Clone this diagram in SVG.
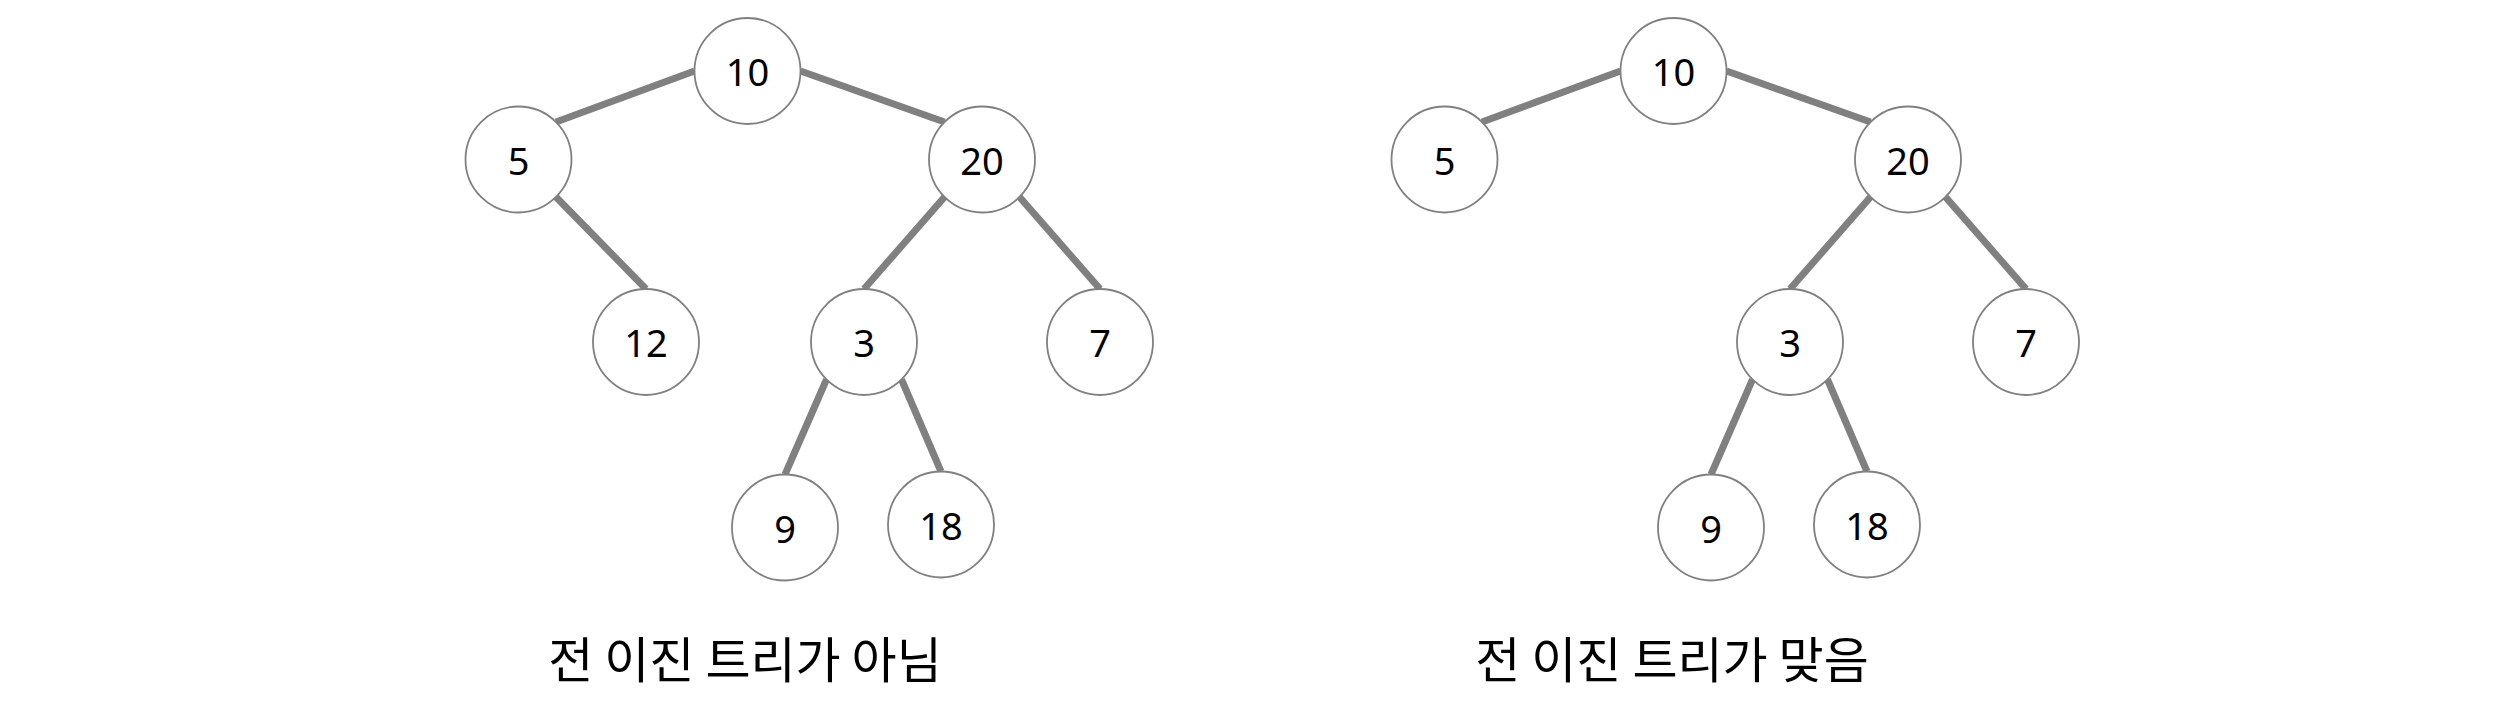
<svg xmlns="http://www.w3.org/2000/svg" width="2515" height="721" viewBox="0 0 2515 721">
<style>
.n circle{fill:#fff;stroke:#808080;stroke-width:1.8}
.n text{font-family:"Noto Sans","Noto Sans CJK KR",sans-serif;font-size:38px;fill:#000;text-anchor:middle}
#edges line{stroke:#808080;stroke-width:7}
.cap{font-family:"Noto Sans CJK KR","Noto Sans",sans-serif;font-size:49px;fill:#000;text-anchor:middle}
</style>
<rect width="2515" height="721" fill="#fff"/>
<g id="edges">
<line x1="694.5" y1="71" x2="556" y2="122"/>
<line x1="800.5" y1="71" x2="944.5" y2="122"/>
<line x1="556" y1="197" x2="646" y2="289"/>
<line x1="944.5" y1="197" x2="864" y2="289"/>
<line x1="1019.5" y1="197" x2="1100" y2="289"/>
<line x1="826.5" y1="379.5" x2="785" y2="474.5"/>
<line x1="901.5" y1="379.5" x2="941" y2="471.5"/>
<line x1="1620.5" y1="71" x2="1482" y2="122"/>
<line x1="1726.5" y1="71" x2="1870.5" y2="122"/>
<line x1="1870.5" y1="197" x2="1790" y2="289"/>
<line x1="1945.5" y1="197" x2="2026" y2="289"/>
<line x1="1752.5" y1="379.5" x2="1711" y2="474.5"/>
<line x1="1827.5" y1="379.5" x2="1867" y2="471.5"/>
</g>
<g id="L10" class="n"><circle cx="747.5" cy="71" r="53"/><text x="747.5" y="86">10</text></g>
<g id="L5" class="n"><circle cx="518.5" cy="159.5" r="53"/><text x="518.5" y="174.5">5</text></g>
<g id="L20" class="n"><circle cx="982" cy="159.5" r="53"/><text x="982" y="174.5">20</text></g>
<g id="L12" class="n"><circle cx="646" cy="342" r="53"/><text x="646" y="357">12</text></g>
<g id="L3" class="n"><circle cx="864" cy="342" r="53"/><text x="864" y="357">3</text></g>
<g id="L7" class="n"><circle cx="1100" cy="342" r="53"/><text x="1100" y="357">7</text></g>
<g id="L9" class="n"><circle cx="785" cy="527.5" r="53"/><text x="785" y="542.5">9</text></g>
<g id="L18" class="n"><circle cx="941" cy="524.5" r="53"/><text x="941" y="539.5">18</text></g>
<g id="R10" class="n"><circle cx="1673.5" cy="71" r="53"/><text x="1673.5" y="86">10</text></g>
<g id="R5" class="n"><circle cx="1444.5" cy="159.5" r="53"/><text x="1444.5" y="174.5">5</text></g>
<g id="R20" class="n"><circle cx="1908" cy="159.5" r="53"/><text x="1908" y="174.5">20</text></g>
<g id="R3" class="n"><circle cx="1790" cy="342" r="53"/><text x="1790" y="357">3</text></g>
<g id="R7" class="n"><circle cx="2026" cy="342" r="53"/><text x="2026" y="357">7</text></g>
<g id="R9" class="n"><circle cx="1711" cy="527.5" r="53"/><text x="1711" y="542.5">9</text></g>
<g id="R18" class="n"><circle cx="1867" cy="524.5" r="53"/><text x="1867" y="539.5">18</text></g>
<g id="captions">
<text class="cap" x="745" y="678">전 이진 트리가 아님</text>
<text class="cap" x="1672" y="678">전 이진 트리가 맞음</text>
</g>
</svg>
